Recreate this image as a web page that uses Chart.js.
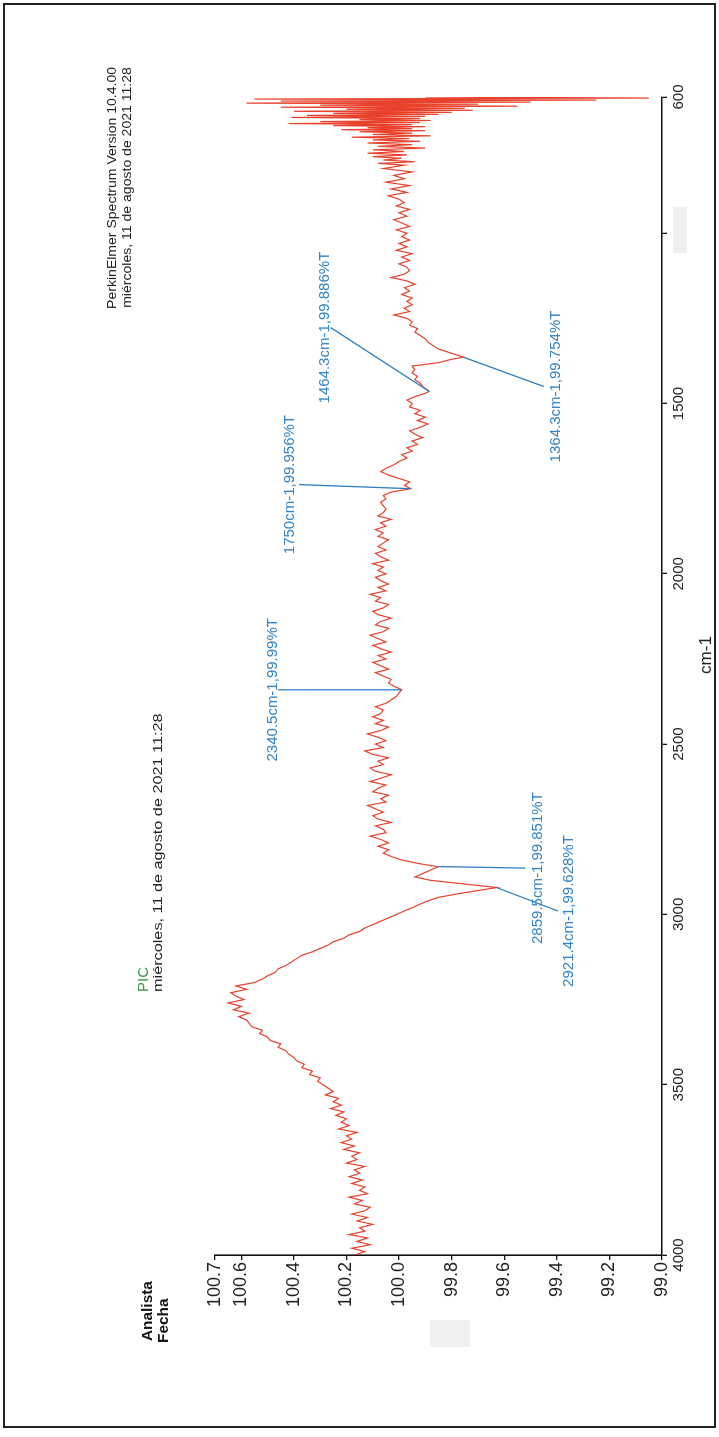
<!DOCTYPE html>
<html><head><meta charset="utf-8">
<script src="https://cdn.jsdelivr.net/npm/chart.js@4.4.1/dist/chart.umd.min.js"></script>
<style>
html,body{margin:0;padding:0;background:#fff;width:719px;height:1437px;overflow:hidden;}
#frame{position:absolute;left:3px;top:3px;width:709px;height:1421px;border:2px solid #222;}
#rot{position:absolute;left:0;top:0;width:1437px;height:719px;transform-origin:0 0;transform:translate(0,1437px) rotate(-90deg);font-family:"Liberation Sans",Arial,sans-serif;}
#rot canvas{position:absolute;left:0;top:0;}
.t{position:absolute;white-space:nowrap;line-height:1;}
.r{transform-origin:100% 50%;}
.l{transform-origin:0 50%;}
.box{position:absolute;background:#efefef;}
</style></head>
<body>
<div id="frame"></div>
<div id="rot">
<canvas id="c" width="1437" height="719"></canvas>
<div class="t r" style="right:67px;top:105px;font-size:13px;color:#222;transform:scaleX(1.08);">PerkinElmer Spectrum Version 10.4.00</div>
<div class="t r" style="right:67px;top:120px;font-size:13px;color:#222;transform:scaleX(1.08);">miércoles, 11 de agosto de 2021 11:28</div>
<div class="t l" style="left:445px;top:136px;font-size:14px;color:#3c9a48;transform:scaleX(1.07);">PIC</div>
<div class="t l" style="left:445px;top:151px;font-size:13px;color:#222;transform:scaleX(1.25);">miércoles, 11 de agosto de 2021 11:28</div>
<div class="t l" style="left:96px;top:140px;font-size:14px;font-weight:bold;color:#111;transform:scaleX(1.1);">Analista</div>
<div class="t l" style="left:94px;top:156px;font-size:14px;font-weight:bold;color:#111;transform:scaleX(1.1);">Fecha</div>
<div class="t" style="left:782px;top:697px;font-size:17px;color:#222;transform:translateX(-50%);">cm-1</div>
<div class="box" style="left:90px;top:430px;width:27px;height:40px;"></div>
<div class="box" style="left:1184px;top:673px;width:46px;height:14px;"></div>
</div>
<script>
// ---- data ----
const wavenumbers = [
4000,3990,3980,3970,3960,3950,3940,3930,3920,3910,
3900,3890,3880,3870,3860,3850,3840,3830,3820,3810,
3800,3790,3780,3770,3760,3750,3740,3730,3720,3710,
3700,3690,3680,3670,3660,3650,3640,3630,3620,3610,
3600,3590,3580,3570,3560,3550,3540,3530,3520,3510,
3500,3490,3480,3470,3460,3450,3440,3430,3420,3410,
3400,3390,3380,3370,3360,3350,3340,3330,3320,3310,
3300,3290,3280,3270,3260,3250,3240,3230,3220,3210,
3200,3190,3180,3170,3160,3150,3140,3130,3120,3110,
3100,3090,3080,3070,3060,3050,3040,3030,3020,3010,
3000,2990,2980,2970,2960,2950,2940,2930,2921,2910,
2900,2890,2880,2870,2860,2850,2840,2830,2820,2810,
2800,2790,2780,2770,2760,2750,2740,2730,2720,2710,
2700,2690,2680,2670,2660,2650,2640,2630,2620,2610,
2600,2590,2580,2570,2560,2550,2540,2530,2520,2510,
2500,2490,2480,2470,2460,2450,2440,2430,2420,2410,
2400,2390,2380,2370,2360,2350,2340,2330,2320,2310,
2300,2290,2280,2270,2260,2250,2240,2230,2220,2210,
2200,2190,2180,2170,2160,2150,2140,2130,2120,2110,
2100,2090,2080,2070,2060,2050,2040,2030,2020,2010,
2000,1990,1980,1970,1960,1950,1940,1930,1920,1910,
1900,1890,1880,1870,1860,1850,1840,1830,1820,1810,
1800,1790,1780,1770,1760,1750,1740,1730,1720,1710,
1700,1690,1680,1670,1660,1650,1640,1630,1620,1610,
1600,1590,1580,1570,1560,1550,1540,1530,1520,1510,
1500,1490,1480,1470,1464,1450,1440,1430,1420,1410,
1400,1390,1380,1370,1364,1350,1340,1330,1320,1310,
1300,1290,1280,1270,1260,1250,1240,1230,1220,1210,
1200,1190,1180,1170,1160,1150,1140,1130,1120,1110,
1100,1090,1080,1070,1060,1050,1040,1030,1020,1010,
1000,990,980,970,960,950,940,930,920,910,
900,890,880,870,860,850,840,830,820,810,
800,795,790,785,780,775,770,765,760,755,
750,745,740,735,730,726,722,718,714,710,
706,702,699,696,693,690,687,684,681,678,
675,672,669,666,663,660,657,654,651,648,
645,642,639,636,633,630,627,624,621,618,
615,612,609,606,603,600
];
const transmittance = [
100.17,100.13,100.18,100.11,100.16,100.12,100.19,100.13,100.15,100.10,
100.16,100.12,100.18,100.13,100.11,100.17,100.14,100.19,100.12,100.15,
100.13,100.18,100.14,100.19,100.15,100.17,100.13,100.20,100.16,100.18,
100.15,100.21,100.17,100.22,100.18,100.20,100.16,100.23,100.19,100.22,
100.20,100.24,100.21,100.26,100.22,100.25,100.23,100.28,100.25,100.27,
100.29,100.31,100.30,100.34,100.33,100.37,100.36,100.39,100.40,100.42,
100.43,100.46,100.45,100.49,100.50,100.53,100.52,100.56,100.57,100.58,
100.61,100.57,100.63,100.60,100.65,100.59,100.62,100.64,100.58,100.62,
100.55,100.52,100.50,100.47,100.46,100.43,100.41,100.39,100.37,100.33,
100.30,100.27,100.25,100.21,100.19,100.15,100.13,100.10,100.07,100.04,
100.01,99.98,99.95,99.92,99.89,99.85,99.78,99.70,99.628,99.76,
99.88,99.94,99.91,99.88,99.851,99.93,99.99,100.03,100.06,100.04,
100.08,100.04,100.07,100.11,100.05,100.06,100.09,100.03,100.08,100.10,
100.06,100.09,100.12,100.05,100.07,100.04,100.10,100.08,100.05,100.11,
100.07,100.03,100.09,100.11,100.06,100.08,100.04,100.10,100.13,100.06,
100.09,100.05,100.08,100.12,100.07,100.04,100.09,100.06,100.10,100.07,
100.06,100.09,100.05,100.03,100.01,100.00,99.99,100.02,100.04,100.03,
100.06,100.09,100.04,100.07,100.10,100.05,100.08,100.03,100.07,100.10,
100.05,100.08,100.11,100.06,100.04,100.09,100.07,100.03,100.08,100.10,
100.06,100.04,100.09,100.07,100.11,100.05,100.08,100.04,100.07,100.09,
100.05,100.08,100.06,100.10,100.04,100.07,100.09,100.05,100.08,100.06,
100.04,100.08,100.06,100.09,100.05,100.07,100.03,100.08,100.06,100.05,
100.06,100.07,100.05,100.06,100.03,99.956,99.98,99.96,100.00,100.04,
100.07,100.05,100.02,100.00,99.97,99.99,99.95,99.97,99.93,99.95,
99.91,99.94,99.96,99.92,99.89,99.93,99.90,99.94,99.92,99.96,
99.95,99.97,99.94,99.90,99.886,99.91,99.92,99.94,99.93,99.95,
99.94,99.95,99.85,99.80,99.754,99.81,99.85,99.87,99.89,99.90,
99.92,99.94,99.93,99.96,99.95,99.97,100.02,99.96,99.98,99.95,
99.97,99.95,99.99,99.96,99.98,99.94,99.97,100.03,99.98,99.96,
99.97,100.00,99.96,99.99,99.95,100.01,99.97,100.00,99.96,99.99,
99.97,100.01,99.96,99.99,100.02,99.97,100.00,99.96,100.01,99.98,
100.00,100.04,99.97,100.03,99.96,100.05,99.98,100.02,99.95,100.06,
99.98,100.08,99.94,100.06,99.99,100.10,99.97,100.12,99.98,100.10,
99.90,100.08,99.95,100.12,99.92,100.10,99.96,100.18,99.88,100.10,
99.95,100.15,99.90,100.22,99.95,100.12,99.90,100.25,99.95,100.42,
99.92,100.30,99.88,100.15,99.92,100.41,99.90,100.35,99.85,100.25,
99.80,100.40,99.72,100.20,99.75,100.45,99.55,100.30,99.70,100.58,
99.50,100.45,99.25,100.55,99.05,99.90
];
const xTickValues = [4000,3500,3000,2500,2000,1500,1000,600];
const xTickLabels = ['4000','3500','3000','2500','2000','1500','','600'];
const yTickValues = [99.0,99.2,99.4,99.6,99.8,100.0,100.2,100.4,100.6,100.7];
const yTickLabels = ['99.0','99.2','99.4','99.6','99.8','100.0','100.2','100.4','100.6','100.7'];
// peak annotations
const peakWn = [2921.4,2859.5,2340.5,1750,1464.3,1364.3];
const peakT = [99.628,99.851,99.99,99.956,99.886,99.754];
const peakLabels = ['2921.4cm-1,99.628%T','2859.5cm-1,99.851%T','2340.5cm-1,99.99%T','1750cm-1,99.956%T','1464.3cm-1,99.886%T','1364.3cm-1,99.754%T'];
// label anchor (end of leader line) in data units, and text offset
const labelAnchorWn = [2990,2864,2340.5,1738,1277,1450];
const labelAnchorT = [99.396,99.52,100.46,100.38,100.26,99.45];
const labelDy = [15,17,-1,-5,-2,16];

Chart.defaults.font.family = '"Liberation Sans", Arial, sans-serif';

const peakPlugin = {
  id: 'peaks',
  afterDatasetsDraw(chart) {
    const ctx = chart.ctx, xs = chart.scales.x, ys = chart.scales.y;
    ctx.save();
    peakWn.forEach((wn, i) => {
      const px = xs.getPixelForValue(wn), py = ys.getPixelForValue(peakT[i]);
      const lx = xs.getPixelForValue(labelAnchorWn[i]), ly = ys.getPixelForValue(labelAnchorT[i]);
      ctx.strokeStyle = '#2f7fc1';
      ctx.lineWidth = 1.3;
      ctx.beginPath(); ctx.moveTo(px, py); ctx.lineTo(lx, ly); ctx.stroke();
      ctx.fillStyle = '#3384c6';
      ctx.font = '15px "Liberation Sans", Arial, sans-serif';
      ctx.textAlign = 'center';
      ctx.textBaseline = 'alphabetic';
      ctx.fillText(peakLabels[i], lx, ly + labelDy[i]);
    });
    ctx.restore();
  }
};

new Chart(document.getElementById('c'), {
  type: 'line',
  data: {
    datasets: [{
      data: wavenumbers.map((w, i) => ({x: w, y: transmittance[i]})),
      borderColor: '#e8412c',
      borderWidth: 1.2,
      pointRadius: 0,
      tension: 0,
      fill: false
    }]
  },
  options: {
    responsive: false,
    animation: false,
    devicePixelRatio: 1,
    layout: {padding: {left: 112, right: 97, top: 215, bottom: 17}},
    plugins: {legend: {display: false}, tooltip: {enabled: false}},
    scales: {
      x: {
        type: 'linear', reverse: true, min: 600, max: 4000,
        afterBuildTicks: s => { s.ticks = xTickValues.map(v => ({value: v})); },
        afterFit: s => { s.height = 40; },
        ticks: {
          autoSkip: false, maxRotation: 0, padding: 3,
          font: {size: 15}, color: '#222',
          callback: v => { const i = xTickValues.indexOf(v); return i >= 0 ? xTickLabels[i] : ''; }
        },
        grid: {display: true, drawOnChartArea: false, drawTicks: true, tickLength: 5, color: '#111', lineWidth: 1.3},
        border: {display: true, color: '#111', width: 1.6}
      },
      y: {
        type: 'linear', min: 99.0, max: 100.7,
        afterBuildTicks: s => { s.ticks = yTickValues.map(v => ({value: v})); },
        afterFit: s => { s.width = 70; },
        ticks: {
          autoSkip: false, padding: 2,
          font: {size: 18}, color: '#222',
          callback: v => { const i = yTickValues.indexOf(v); return i >= 0 ? yTickLabels[i] : ''; }
        },
        grid: {display: true, drawOnChartArea: false, drawTicks: true, tickLength: 5, color: '#111', lineWidth: 1.3},
        border: {display: true, color: '#111', width: 1.6}
      }
    }
  },
  plugins: [peakPlugin]
});
</script>
</body></html>
